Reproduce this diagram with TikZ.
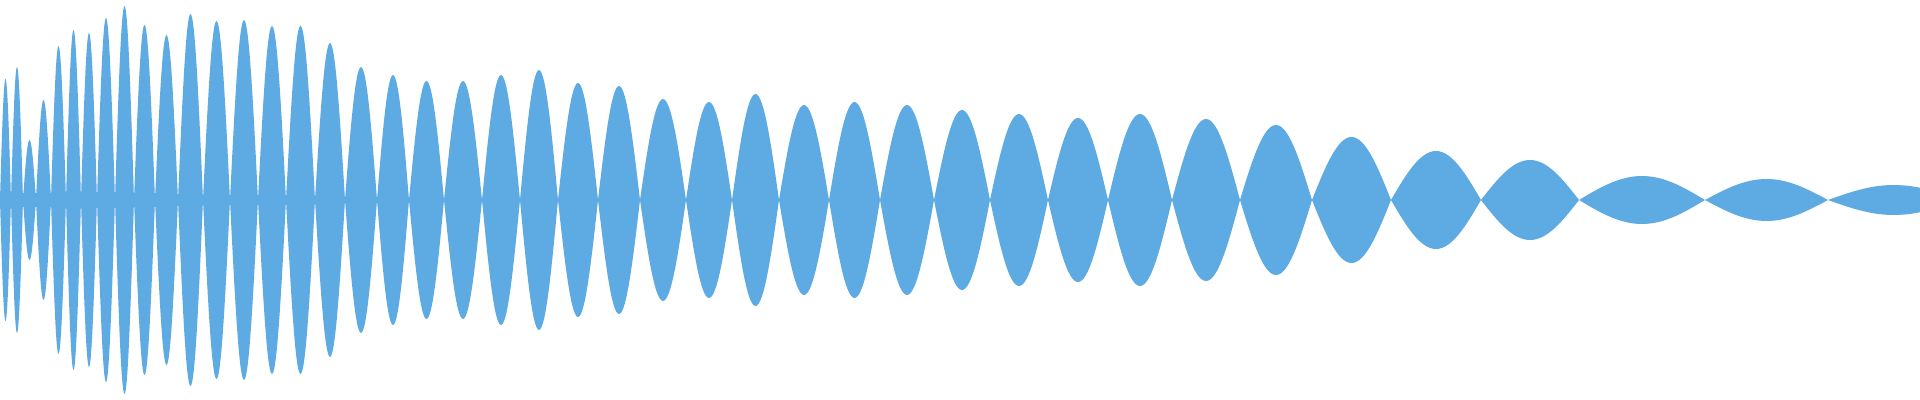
\documentclass[tikz,border=0pt]{standalone}
\definecolor{wave}{RGB}{93,171,226}
\begin{document}
\begin{tikzpicture}[x=0.01cm,y=0.01cm]
\useasboundingbox (0,-200) rectangle (1920,200);
\clip (0,-200) rectangle (1920,200);
\fill[wave] (0,-7) rectangle (160,7);
\fill[wave] (160,-4) rectangle (300,4);
\foreach \a/\b/\A in {0/11/121,11/23/133,23/36/60,36/51/100,51/66/154,66/81/170,81/97/167,97/115/182,115/134/194,134/155/175,155/178/165,178/203/186,203/230/179,230/258/180,258/286/174,286/315/174,315/345/157,345/377/133,377/409/125,409/444/119,444/482/119,482/520/125,520/558/130,558/598/117,598/640/114,640/686/101,686/732/98,732/779/106,779/829/95,829/880/98,880/934/95,934/990/90,990/1048/86,1048/1108/82,1108/1172/86,1172/1240/81,1240/1312/75,1312/1391/63,1391/1481/49,1481/1579/40,1579/1705/24,1705/1828/21,1828/1960/15}
{
  \pgfmathsetmacro{\m}{(\a+\b)/2}
  \fill[wave] (\a,0) sin (\m,\A) cos (\b,0) sin (\m,-\A) cos (\a,0) -- cycle;
}
\end{tikzpicture}
\end{document}
